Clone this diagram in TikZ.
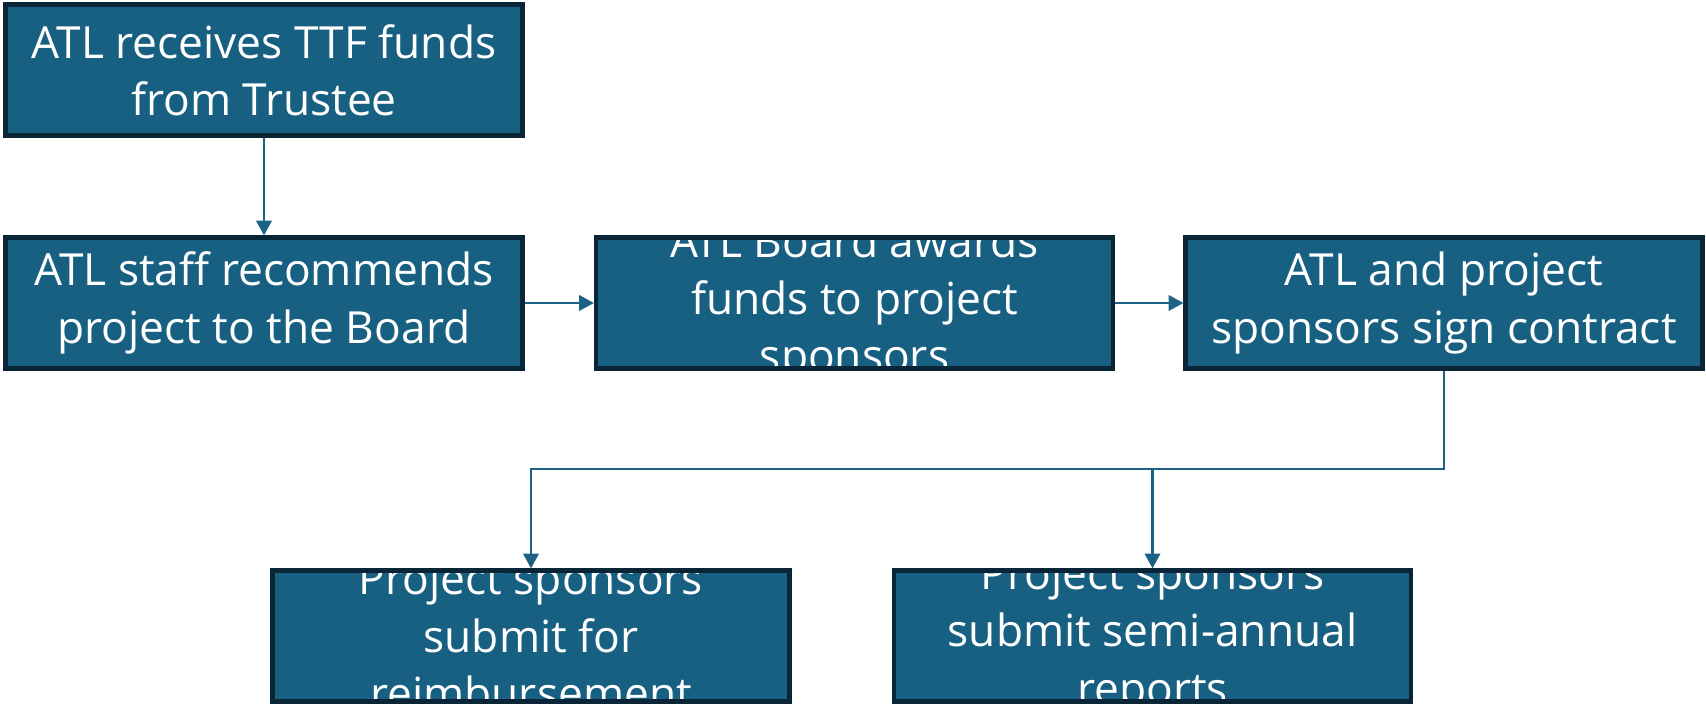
\documentclass[tikz,border=0pt]{standalone}
\usepackage{fontspec}
\setmainfont{Open Sans}
\usetikzlibrary{arrows.meta}
\definecolor{boxfill}{RGB}{24,96,130}
\definecolor{boxline}{RGB}{10,38,54}
\definecolor{linkblue}{RGB}{28,98,132}

\tikzset{
    stepbox/.style={draw=boxline, line width=1.2pt, fill=boxfill,
        minimum width=5.17cm, minimum height=1.31cm, inner sep=0pt,
        path picture={\node[draw=none, fill=none, align=center, text=white,
            font=\fontsize{12.6}{16.3}\selectfont]
            at (path picture bounding box.center) {#1};}},
    link/.style={draw=linkblue, line width=0.6pt, -{Triangle[width=4.4pt, length=4.2pt]}}
}

\begin{document}
\begin{tikzpicture}
    \useasboundingbox (0,0) rectangle (17.06,7.07);
    \node[stepbox={ATL receives TTF funds\\from Trustee}] (receive) at (2.64,6.37) {};
    \node[stepbox={ATL staff recommends\\project to the Board}] (recommend) at (2.64,4.04) {};
    \node[stepbox={ATL Board awards\\funds to project\\sponsors}] (award) at (8.545,4.04) {};
    \node[stepbox={ATL and project\\sponsors sign contract}] (contract) at (14.44,4.04) {};
    \node[stepbox={Project sponsors\\submit for\\reimbursement}] (reimburse) at (5.31,0.71) {};
    \node[stepbox={Project sponsors\\submit semi-annual\\reports}] (report) at (11.525,0.71) {};
    \draw[link] (receive) -- (recommend);
    \draw[link] (recommend) -- (award);
    \draw[link] (award) -- (contract);
    \path (contract.south) ++(0,-0.98) coordinate (turn);
    \draw[link] (contract.south) -- (turn) -| (reimburse.north);
    \draw[link] (turn -| report.north) -- (report.north);
\end{tikzpicture}
\end{document}
